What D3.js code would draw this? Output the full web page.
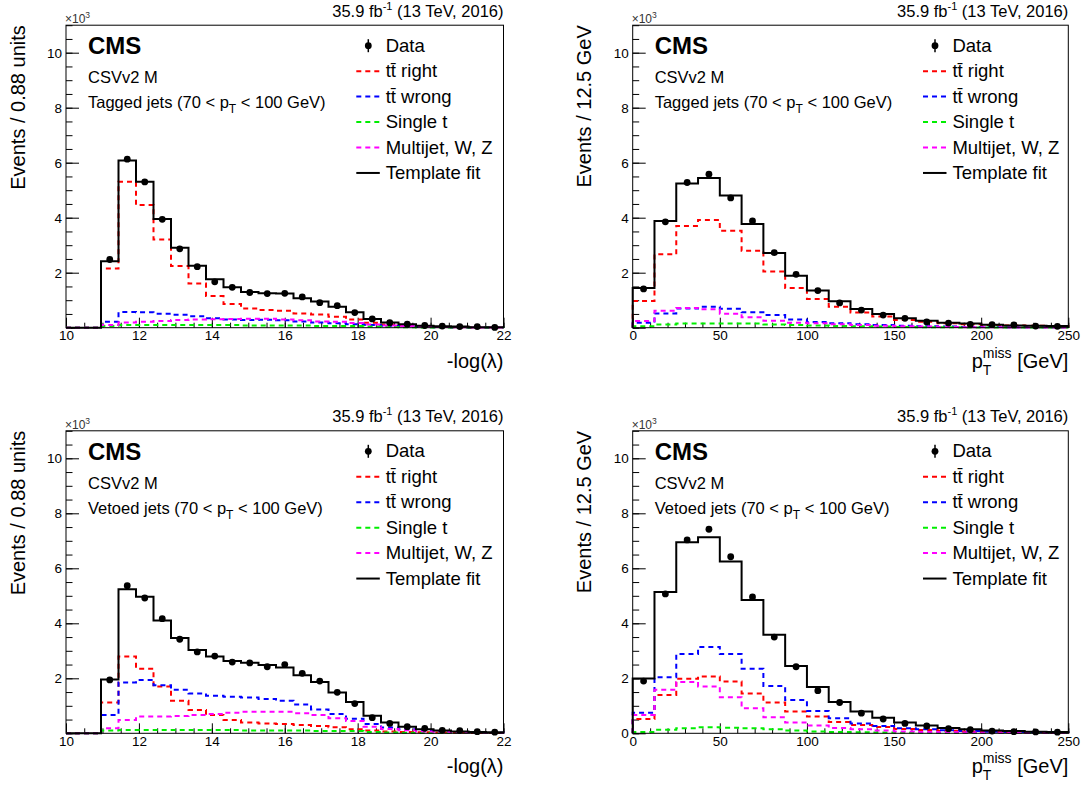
<!DOCTYPE html>
<html>
<head>
<meta charset="utf-8">
<script src="https://cdn.jsdelivr.net/npm/d3@7/dist/d3.min.js"></script>
<style>
  body { margin: 0; background: #fff; }
  svg { display: block; font-family: "Liberation Sans", Arial, sans-serif; }
</style>
</head>
<body>
<script>
// bin edges
const lamEdges = [10, 10.48, 10.96, 11.44, 11.92, 12.40, 12.88, 13.36, 13.84, 14.32, 14.80, 15.28, 15.76,
    16.24, 16.72, 17.20, 17.68, 18.16, 18.64, 19.12, 19.60, 20.08, 20.56, 21.04, 21.52, 22];
const metEdges = [0, 12.5, 25, 37.5, 50, 62.5, 75, 87.5, 100, 112.5, 125, 137.5, 150, 162.5, 175,
    187.5, 200, 212.5, 225, 237.5, 250];

// tagged jets, -log(lambda)  (values in units of 10^3)
const tagLamData   = [0, 0, 2.48, 6.13, 5.30, 3.94, 2.87, 2.22, 1.67, 1.47, 1.28, 1.24, 1.25, 1.12, 0.91, 0.80, 0.55, 0.32, 0.18, 0.13, 0.08, 0.06, 0.04, 0.04, 0.01];
const tagLamFit    = [0, 0, 2.42, 6.08, 5.31, 3.95, 2.91, 2.25, 1.76, 1.47, 1.30, 1.25, 1.24, 1.07, 0.95, 0.76, 0.56, 0.32, 0.19, 0.13, 0.07, 0.05, 0.04, 0.02, 0.02];
const tagLamRight  = [0, 0, 2.15, 5.31, 4.46, 3.21, 2.24, 1.61, 1.15, 0.86, 0.70, 0.64, 0.62, 0.52, 0.48, 0.40, 0.30, 0.18, 0.12, 0.08, 0.05, 0.03, 0.02, 0.01, 0.01];
const tagLamWrong  = [0, 0, 0.22, 0.57, 0.56, 0.51, 0.47, 0.42, 0.34, 0.30, 0.28, 0.29, 0.27, 0.23, 0.19, 0.16, 0.13, 0.10, 0.06, 0.04, 0.03, 0.02, 0.01, 0.01, 0.01];
const tagLamSingle = [0, 0, 0.06, 0.10, 0.10, 0.10, 0.10, 0.10, 0.10, 0.10, 0.08, 0.08, 0.08, 0.08, 0.06, 0.06, 0.06, 0.04, 0.03, 0.02, 0.01, 0.01, 0.01, 0.01, 0.01];
const tagLamMulti  = [0, 0, 0.10, 0.19, 0.22, 0.24, 0.28, 0.30, 0.31, 0.32, 0.33, 0.33, 0.30, 0.27, 0.23, 0.22, 0.17, 0.12, 0.08, 0.06, 0.04, 0.03, 0.02, 0.01, 0.01];

// tagged jets, pT miss
const tagMetData   = [1.41, 3.85, 5.28, 5.58, 4.72, 3.88, 2.73, 1.94, 1.35, 0.90, 0.64, 0.46, 0.34, 0.21, 0.17, 0.12, 0.11, 0.10, 0.06, 0.05];
const tagMetFit    = [1.44, 3.88, 5.24, 5.44, 4.81, 3.77, 2.72, 1.89, 1.35, 0.96, 0.68, 0.50, 0.34, 0.25, 0.18, 0.15, 0.11, 0.08, 0.07, 0.06];
const tagMetRight  = [0.97, 2.67, 3.70, 3.92, 3.53, 2.80, 2.04, 1.44, 1.04, 0.76, 0.55, 0.41, 0.28, 0.22, 0.16, 0.13, 0.10, 0.08, 0.07, 0.06];
const tagMetWrong  = [0.18, 0.52, 0.70, 0.76, 0.69, 0.56, 0.46, 0.30, 0.21, 0.16, 0.13, 0.10, 0.07, 0.05, 0.04, 0.03, 0.03, 0.02, 0.02, 0.02];
const tagMetSingle = [0.05, 0.12, 0.15, 0.15, 0.15, 0.15, 0.12, 0.10, 0.08, 0.06, 0.05, 0.04, 0.03, 0.02, 0.02, 0.01, 0.01, 0.01, 0.01, 0.01];
const tagMetMulti  = [0.24, 0.62, 0.72, 0.67, 0.51, 0.38, 0.25, 0.18, 0.16, 0.13, 0.10, 0.07, 0.05, 0.04, 0.03, 0.02, 0.02, 0.01, 0.01, 0.01];

// vetoed jets, -log(lambda)
const vetLamData   = [0, 0, 1.94, 5.37, 4.92, 4.17, 3.42, 2.96, 2.81, 2.59, 2.56, 2.42, 2.50, 2.18, 1.90, 1.49, 1.08, 0.57, 0.36, 0.24, 0.18, 0.11, 0.10, 0.06, 0.04];
const vetLamFit    = [0, 0, 1.96, 5.24, 4.97, 4.10, 3.47, 3.03, 2.79, 2.63, 2.57, 2.48, 2.39, 2.11, 1.87, 1.48, 1.14, 0.64, 0.39, 0.24, 0.15, 0.10, 0.07, 0.05, 0.04];
const vetLamRight  = [0, 0, 1.12, 2.79, 2.35, 1.70, 1.18, 0.85, 0.67, 0.48, 0.39, 0.36, 0.34, 0.30, 0.27, 0.22, 0.15, 0.10, 0.07, 0.05, 0.04, 0.03, 0.02, 0.01, 0.01];
const vetLamWrong  = [0, 0, 0.67, 1.85, 1.94, 1.75, 1.58, 1.45, 1.37, 1.33, 1.30, 1.25, 1.18, 1.05, 0.87, 0.70, 0.53, 0.34, 0.21, 0.15, 0.10, 0.07, 0.05, 0.03, 0.02];
const vetLamSingle = [0, 0, 0.10, 0.12, 0.12, 0.12, 0.12, 0.12, 0.12, 0.12, 0.10, 0.10, 0.10, 0.10, 0.08, 0.08, 0.08, 0.05, 0.03, 0.02, 0.01, 0.01, 0.01, 0.01, 0.01];
const vetLamMulti  = [0, 0, 0.18, 0.48, 0.61, 0.61, 0.63, 0.67, 0.70, 0.75, 0.78, 0.78, 0.78, 0.73, 0.67, 0.55, 0.45, 0.24, 0.16, 0.11, 0.07, 0.05, 0.03, 0.02, 0.01];

// vetoed jets, pT miss
const vetMetData   = [1.90, 5.07, 7.03, 7.42, 6.42, 4.96, 3.50, 2.42, 1.55, 1.12, 0.73, 0.52, 0.36, 0.27, 0.17, 0.13, 0.08, 0.06, 0.05, 0.04];
const vetMetFit    = [1.99, 5.14, 6.95, 7.13, 6.25, 4.85, 3.58, 2.45, 1.68, 1.14, 0.79, 0.57, 0.39, 0.28, 0.19, 0.15, 0.10, 0.08, 0.06, 0.05];
const vetMetRight  = [0.52, 1.39, 1.98, 2.07, 1.88, 1.45, 1.12, 0.79, 0.61, 0.41, 0.30, 0.23, 0.16, 0.12, 0.09, 0.07, 0.05, 0.04, 0.03, 0.02];
const vetMetWrong  = [0.75, 2.04, 2.88, 3.14, 2.88, 2.35, 1.72, 1.21, 0.81, 0.55, 0.36, 0.27, 0.18, 0.15, 0.11, 0.08, 0.06, 0.05, 0.04, 0.03];
const vetMetSingle = [0.05, 0.13, 0.18, 0.22, 0.20, 0.18, 0.15, 0.10, 0.07, 0.05, 0.04, 0.03, 0.02, 0.02, 0.01, 0.01, 0.01, 0.01, 0.01, 0.01];
const vetMetMulti  = [0.67, 1.58, 1.87, 1.70, 1.31, 0.91, 0.58, 0.39, 0.28, 0.19, 0.15, 0.10, 0.07, 0.05, 0.04, 0.03, 0.02, 0.02, 0.01, 0.01];

const lamTicks = [10, 12, 14, 16, 18, 20, 22];
const metTicks = [0, 50, 100, 150, 200, 250];
const yTicks = [0, 2, 4, 6, 8, 10];

const legendNames = ["Data", "tt\u0304 right", "tt\u0304 wrong", "Single t", "Multijet, W, Z", "Template fit"];
const colors = { right: "#ff0000", wrong: "#0000ff", single: "#00ee00", multi: "#ff00ff", fit: "#000000" };

const svg = d3.select("body").append("svg")
    .attr("width", 1085)
    .attr("height", 785);

svg.append("rect").attr("width", 1085).attr("height", 785).attr("fill", "#fff");

const panelH = 302.5;

function drawPanel(p) {
    const g = svg.append("g");
    const x = d3.scaleLinear().domain(p.xDomain).range([p.left, p.left + p.width]);
    const y = d3.scaleLinear().domain([0, 11]).range([p.top + panelH, p.top]);

    // minor ticks
    g.append("g")
        .attr("transform", `translate(0,${p.top + panelH})`)
        .call(d3.axisBottom(x).tickValues(d3.range(p.xDomain[0], p.xDomain[1] + 1e-6, p.xMinor))
            .tickSizeInner(-5).tickSizeOuter(0).tickFormat(""))
        .call(a => a.select(".domain").remove());
    g.append("g")
        .attr("transform", `translate(${p.left},0)`)
        .call(d3.axisLeft(y).tickValues(d3.range(0, 11.01, 0.5)).tickSizeInner(-6.5).tickSizeOuter(0).tickFormat(""))
        .call(a => a.select(".domain").remove());

    // major ticks
    g.append("g")
        .attr("transform", `translate(0,${p.top + panelH})`)
        .call(d3.axisBottom(x).tickValues(p.xTicks).tickSizeInner(-10).tickSizeOuter(0).tickPadding(3))
        .call(a => a.select(".domain").remove())
        .call(a => a.selectAll("text").attr("font-size", 13.5).attr("fill", "#000")
            .attr("font-family", "Liberation Sans, Arial, sans-serif"));
    g.append("g")
        .attr("transform", `translate(${p.left},0)`)
        .call(d3.axisLeft(y).tickValues(yTicks).tickSizeInner(-13).tickSizeOuter(0).tickPadding(4)
            .tickFormat(d => (d === 0 && !p.showZero) ? "" : d))
        .call(a => a.select(".domain").remove())
        .call(a => a.selectAll("text").attr("font-size", 13.5).attr("fill", "#000")
            .attr("font-family", "Liberation Sans, Arial, sans-serif"));

    // histograms
    const step = d3.line().x(d => x(d[0])).y(d => y(d[1])).curve(d3.curveStepAfter);
    function histPts(vals) {
        const pts = [[p.edges[0], 0]];
        vals.forEach((v, i) => pts.push([p.edges[i], v]));
        pts.push([p.edges[p.edges.length - 1], vals[vals.length - 1]]);
        pts.push([p.edges[p.edges.length - 1], 0]);
        return pts;
    }
    const series = [
        [p.right, colors.right, "5,4"],
        [p.wrong, colors.wrong, "5,4"],
        [p.single, colors.single, "5,4"],
        [p.multi, colors.multi, "5,4"],
        [p.fit, colors.fit, null]
    ];
    series.forEach(([vals, col, dash]) => {
        g.append("path")
            .datum(histPts(vals))
            .attr("d", step)
            .attr("fill", "none")
            .attr("stroke", col)
            .attr("stroke-width", 2)
            .attr("stroke-dasharray", dash);
    });

    // data points
    const centers = p.data.map((v, i) => ({ c: (p.edges[i] + p.edges[i + 1]) / 2, v: v })).filter(d => d.v > 0);
    g.selectAll("circle.pt").data(centers).join("circle")
        .attr("class", "pt")
        .attr("cx", d => x(d.c))
        .attr("cy", d => y(d.v))
        .attr("r", 3.4)
        .attr("fill", "#000");

    // frame
    g.append("rect")
        .attr("x", p.left).attr("y", p.top)
        .attr("width", p.width).attr("height", panelH)
        .attr("fill", "none").attr("stroke", "#000").attr("stroke-width", 1);

    // texts
    const lumi = g.append("text")
        .attr("x", p.left + p.width).attr("y", p.top - 8.5)
        .attr("text-anchor", "end").attr("font-size", 16.5);
    lumi.append("tspan").text("35.9 fb");
    lumi.append("tspan").attr("dy", -7).attr("font-size", 11).text("-1");
    lumi.append("tspan").attr("dy", 7).text(" (13 TeV, 2016)");

    const mult = g.append("text")
        .attr("x", p.left - 1).attr("y", p.top - 2)
        .attr("font-size", 12).attr("fill", "#333");
    mult.append("tspan").text("\u00d710");
    mult.append("tspan").attr("dy", -5).attr("font-size", 8.5).text("3");

    g.append("text")
        .attr("x", p.left + 22).attr("y", p.top + 29)
        .attr("font-size", 24).attr("font-weight", "bold").text("CMS");
    g.append("text")
        .attr("x", p.left + 22).attr("y", p.top + 58)
        .attr("font-size", 16.5).text("CSVv2 M");
    const sel = g.append("text")
        .attr("x", p.left + 22).attr("y", p.top + 83)
        .attr("font-size", 16.5);
    sel.append("tspan").text(p.selection + " jets (70 < p");
    sel.append("tspan").attr("dy", 5).attr("font-size", 12).text("T");
    sel.append("tspan").attr("dy", -5).text(" < 100 GeV)");

    // y title
    g.append("text")
        .attr("transform", `translate(${p.left - 41.5},${p.top}) rotate(-90)`)
        .attr("text-anchor", "end").attr("font-size", 20)
        .text(p.yTitle);

    // x title
    const xt = g.append("text")
        .attr("x", p.left + p.width).attr("y", p.top + panelH + 40)
        .attr("text-anchor", "end").attr("font-size", 20);
    if (p.xTitle === "met") {
        xt.append("tspan").text("p");
        xt.append("tspan").attr("dy", 7).attr("font-size", 14).text("T");
        xt.append("tspan").attr("dx", -8.5).attr("dy", -17).attr("font-size", 14).text("miss");
        xt.append("tspan").attr("dy", 10).text(" [GeV]");
    } else {
        xt.text(p.xTitle);
    }

    // legend
    const lx = p.left + 290.3;
    legendNames.forEach((name, i) => {
        const by = p.top + 26.5 + i * 25.45;
        const my = by - 6;
        if (i === 0) {
            g.append("line")
                .attr("x1", lx + 12).attr("x2", lx + 12)
                .attr("y1", my - 6.5).attr("y2", my + 6.5)
                .attr("stroke", "#000").attr("stroke-width", 1.5);
            g.append("circle")
                .attr("cx", lx + 12).attr("cy", my).attr("r", 3.4).attr("fill", "#000");
        } else {
            const col = [null, colors.right, colors.wrong, colors.single, colors.multi, colors.fit][i];
            g.append("line")
                .attr("x1", lx).attr("x2", lx + 23.5)
                .attr("y1", my).attr("y2", my)
                .attr("stroke", col).attr("stroke-width", 2)
                .attr("stroke-dasharray", i === 5 ? null : "5,4");
        }
        g.append("text")
            .attr("x", p.left + 319.7).attr("y", by)
            .attr("font-size", 18.5)
            .text(name);
    });
}

const topY = 25.2, botY = 430.8;

drawPanel({ left: 66, top: topY, width: 437.5, xDomain: [10, 22], edges: lamEdges, xTicks: lamTicks, xMinor: 0.5,
    data: tagLamData, fit: tagLamFit, right: tagLamRight, wrong: tagLamWrong, single: tagLamSingle, multi: tagLamMulti,
    selection: "Tagged", yTitle: "Events / 0.88 units", xTitle: "-log(\u03bb)", showZero: false });
drawPanel({ left: 632.7, top: topY, width: 435.6, xDomain: [0, 250], edges: metEdges, xTicks: metTicks, xMinor: 10,
    data: tagMetData, fit: tagMetFit, right: tagMetRight, wrong: tagMetWrong, single: tagMetSingle, multi: tagMetMulti,
    selection: "Tagged", yTitle: "Events / 12.5 GeV", xTitle: "met", showZero: false });
drawPanel({ left: 66, top: botY, width: 437.5, xDomain: [10, 22], edges: lamEdges, xTicks: lamTicks, xMinor: 0.5,
    data: vetLamData, fit: vetLamFit, right: vetLamRight, wrong: vetLamWrong, single: vetLamSingle, multi: vetLamMulti,
    selection: "Vetoed", yTitle: "Events / 0.88 units", xTitle: "-log(\u03bb)", showZero: false });
drawPanel({ left: 632.7, top: botY, width: 435.6, xDomain: [0, 250], edges: metEdges, xTicks: metTicks, xMinor: 10,
    data: vetMetData, fit: vetMetFit, right: vetMetRight, wrong: vetMetWrong, single: vetMetSingle, multi: vetMetMulti,
    selection: "Vetoed", yTitle: "Events / 12.5 GeV", xTitle: "met", showZero: true });
</script>
</body>
</html>
